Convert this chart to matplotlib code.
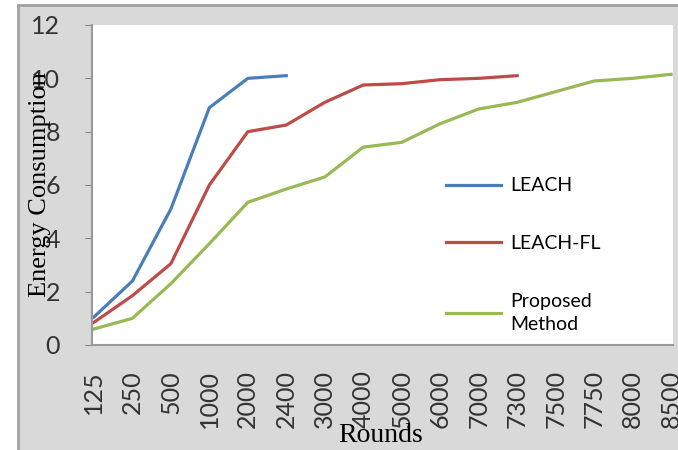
import matplotlib.pyplot as plt
from matplotlib.patches import Rectangle

rounds = ["125", "250", "500", "1000", "2000", "2400", "3000", "4000",
          "5000", "6000", "7000", "7300", "7500", "7750", "8000", "8500"]
leach = [1.05, 2.4, 5.1, 8.9, 10.0, 10.1]
leach_fl = [0.85, 1.85, 3.05, 6.0, 8.0, 8.25, 9.1, 9.75, 9.8, 9.95, 10.0, 10.1]
proposed = [0.6, 1.0, 2.3, 3.8, 5.35, 5.85, 6.3, 7.42, 7.6, 8.3, 8.85, 9.1,
            9.5, 9.9, 10.0, 10.15]

fig = plt.figure(figsize=(6.78, 4.5), dpi=100, facecolor="white")
# grey chart area with darker border
fig.patches.append(Rectangle((18 / 678, -0.05), 1.0, 1 - 5 / 450 + 0.05,
                             transform=fig.transFigure, facecolor="#d9d9d9",
                             edgecolor="#a0a0a0", linewidth=2, zorder=-10))

ax = fig.add_axes([92 / 678, 105 / 450, 581 / 678, 320 / 450])
ax.set_facecolor("white")

x = list(range(len(rounds)))
ax.plot(x[:len(leach)], leach, color="#4a7ebb", lw=2.3, label="LEACH")
ax.plot(x[:len(leach_fl)], leach_fl, color="#be4b48", lw=2.3, label="LEACH-FL")
ax.plot(x, proposed, color="#98b954", lw=2.3, label="Proposed\nMethod")

ax.set_xlim(-0.05, 15.05)
ax.set_ylim(0, 12)
ax.set_yticks([0, 2, 4, 6, 8, 10, 12])
ax.set_yticklabels([0, 2, 4, 6, 8, 10, 12], fontsize=18, family="Lato",
                   color="#333333")
ax.set_xticks(x)
ax.set_xticklabels(rounds, rotation=90, fontsize=18, family="Lato",
                   color="#333333")
ax.tick_params(axis="y", length=5, color="#888888", pad=18)
ax.tick_params(axis="x", length=0, pad=18)
for s in ["top", "right"]:
    ax.spines[s].set_visible(False)
ax.spines["left"].set_color("#999999")
ax.spines["bottom"].set_color("#999999")
ax.spines["left"].set_linewidth(1.5)
ax.spines["bottom"].set_linewidth(1.5)

fig.text(40 / 678, 1 - 185 / 450, "Energy Consumption", rotation=90,
         ha="center", va="center", fontsize=19, family="Liberation Serif")
fig.text(381 / 678, 1 - 436 / 450, "Rounds", ha="center", va="center",
         fontsize=20, family="Liberation Serif")

leg = ax.legend(loc="center left", bbox_to_anchor=(0.58, 0.28), frameon=False,
                prop={"family": "Lato", "size": 14}, handlelength=2.8,
                labelspacing=2.1, handletextpad=0.5)
for t in leg.get_texts():
    t.set_linespacing(1.45)

fig.savefig("out.png", dpi=100)
